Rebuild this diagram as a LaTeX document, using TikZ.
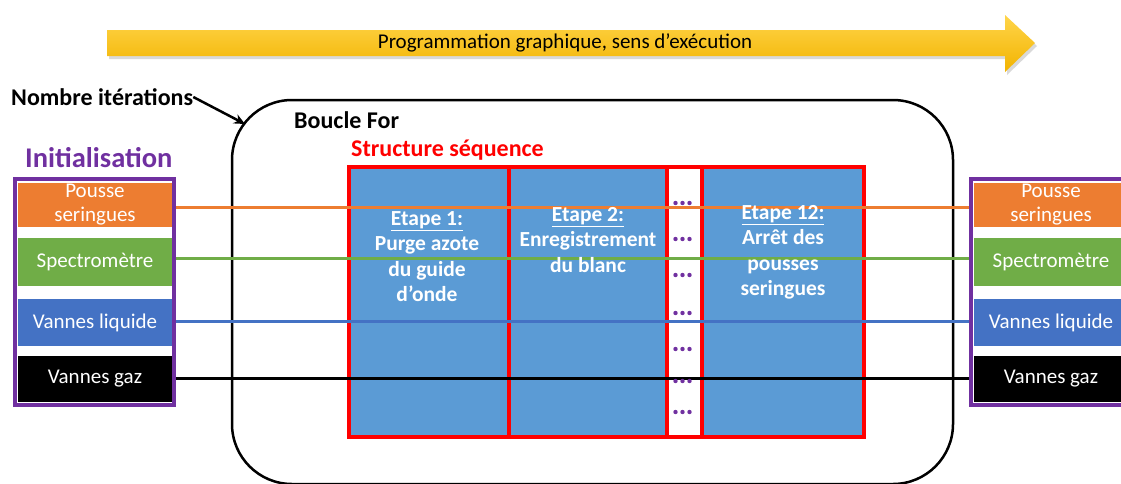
\documentclass[tikz,border=0pt]{standalone}
\usepackage{fontspec}
\setmainfont{Carlito}
\usetikzlibrary{arrows.meta}
\definecolor{cpurple}{HTML}{7030A0}
\definecolor{corange}{HTML}{ED7D31}
\definecolor{cgreen}{HTML}{70AD47}
\definecolor{cblue}{HTML}{4472C4}
\definecolor{cframe}{HTML}{5B9BD5}
\definecolor{cred}{HTML}{FF0000}
\definecolor{ytop}{HTML}{FFD54A}
\definecolor{ybot}{HTML}{F2B300}
\pgfdeclarelayer{back}
\pgfdeclarelayer{mid}
\pgfsetlayers{back,mid,main}
\tikzset{
  dev/.style={fill=#1, text=white, minimum width=154pt, inner sep=0pt,
    align=center, font=\fontsize{21}{24}\selectfont},
  devframe/.style={draw=cpurple, line width=4pt, fill=white, minimum width=159pt,
    minimum height=226pt, inner sep=0pt},
  link/.style={draw=#1, line width=3pt},
  seqframe/.style={draw=cred, line width=3.5pt, fill=cframe, anchor=north west, inner sep=0pt},
  stagetext/.style={text=white, align=center, anchor=north, inner sep=0pt,
    font=\bfseries\fontsize{21.5}{25.5}\selectfont},
  title/.style={anchor=west, inner sep=0pt, font=\bfseries\fontsize{24}{28}\selectfont},
  dot/.style={fill=cpurple, draw=none}
}
\begin{document}
\begin{tikzpicture}[x=1pt,y=-1pt]
\useasboundingbox (0,0) rectangle (1121,483);
\clip (0,0) rectangle (1121,483);

% execution arrow
\fill[black!25, opacity=0.6] (109,33) -- (1007,33) -- (1007,18) -- (1037,46) -- (1007,75) -- (1007,59) -- (109,59) -- cycle;
\shade[top color=ytop, bottom color=ybot] (107,30) -- (1005,30) -- (1005,15) -- (1035,43) -- (1005,72) -- (1005,56) -- (107,56) -- cycle;
\node[inner sep=0pt, font=\fontsize{21}{24}\selectfont] (prog) at (565,43) {Programmation graphique, sens d’exécution};

% loop
\begin{pgfonlayer}{back}
\node[draw, line width=2.5pt, rounded corners=60pt, minimum width=721pt, minimum height=384pt, inner sep=0pt] (loop) at (592.5,292) {};
\end{pgfonlayer}
\node[title] (nb) at (11,97) {Nombre itérations};
\coordinate (loopin) at (245,124);
\draw[line width=2.5pt, -{Stealth[length=11pt,width=10pt]}] (nb.east) -- (loopin);
\node[title] (bf) at (294,120) {Boucle For};

% sequence structure
\node[title, text=cred] (seq) at (351,150) {Structure séquence};
\begin{pgfonlayer}{back}
\node[seqframe, minimum width=160pt, minimum height=270pt] (f1) at (347,165) {};
\node[seqframe, minimum width=158pt, minimum height=270pt] (f2) at (507,165) {};
\node[seqframe, fill=white, minimum width=35pt, minimum height=270pt] (fd) at (665,165) {};
\node[seqframe, minimum width=162pt, minimum height=270pt] (f3) at (700,165) {};
\end{pgfonlayer}
\node[stagetext] (t1) at (427,211) {\underline{Etape 1:}\\Purge azote\\du guide\\d’onde};
\node[stagetext] (t2) at (588,207) {\underline{Etape 2:}\\Enregistrement\\du blanc};
\node[stagetext] (t3) at (783,205) {\underline{Etape 12:}\\Arrêt des\\pousses\\seringues};
\foreach \yy in {203,239,275,313,349,381,412}{
  \foreach \xx in {675.5,682.5,689.5}{
    \fill[dot] (\xx,\yy) circle (2.2pt);
  }
}

% left initialisation
\node[anchor=west, inner sep=0pt, text=cpurple, font=\bfseries\fontsize{28.5}{32}\selectfont] (init) at (25,158) {Initialisation};
\node[devframe] (lframe) at (94.5,292) {};
\node[dev=corange, minimum height=44pt] (lps) at (95,205) {Pousse\\seringues};
\node[dev=cgreen, minimum height=48pt] (lsp) at (95,262) {Spectromètre};
\node[dev=cblue, minimum height=47pt] (lvl) at (95,322.5) {Vannes liquide};
\node[dev=black, minimum height=46pt] (lvg) at (95,379) {Vannes gaz};

% right
\node[devframe] (rframe) at (1050,292) {};
\node[dev=corange, minimum height=44pt] (rps) at (1051,205) {Pousse\\seringues};
\node[dev=cgreen, minimum height=48pt] (rsp) at (1051,262) {Spectromètre};
\node[dev=cblue, minimum height=47pt] (rvl) at (1051,322.5) {Vannes liquide};
\node[dev=black, minimum height=46pt] (rvg) at (1051,379) {Vannes gaz};

% links
\begin{pgfonlayer}{mid}
\draw[link=corange] ([yshift=-2pt]lps.east) -- ([yshift=-2pt]rps.west);
\draw[link=cgreen] ([yshift=4pt]lsp.east) -- ([yshift=4pt]rsp.west);
\draw[link=cblue] ([yshift=1.5pt]lvl.east) -- ([yshift=1.5pt]rvl.west);
\draw[link=black] ([yshift=1pt]lvg.east) -- ([yshift=1pt]rvg.west);
\end{pgfonlayer}
\end{tikzpicture}
\end{document}
